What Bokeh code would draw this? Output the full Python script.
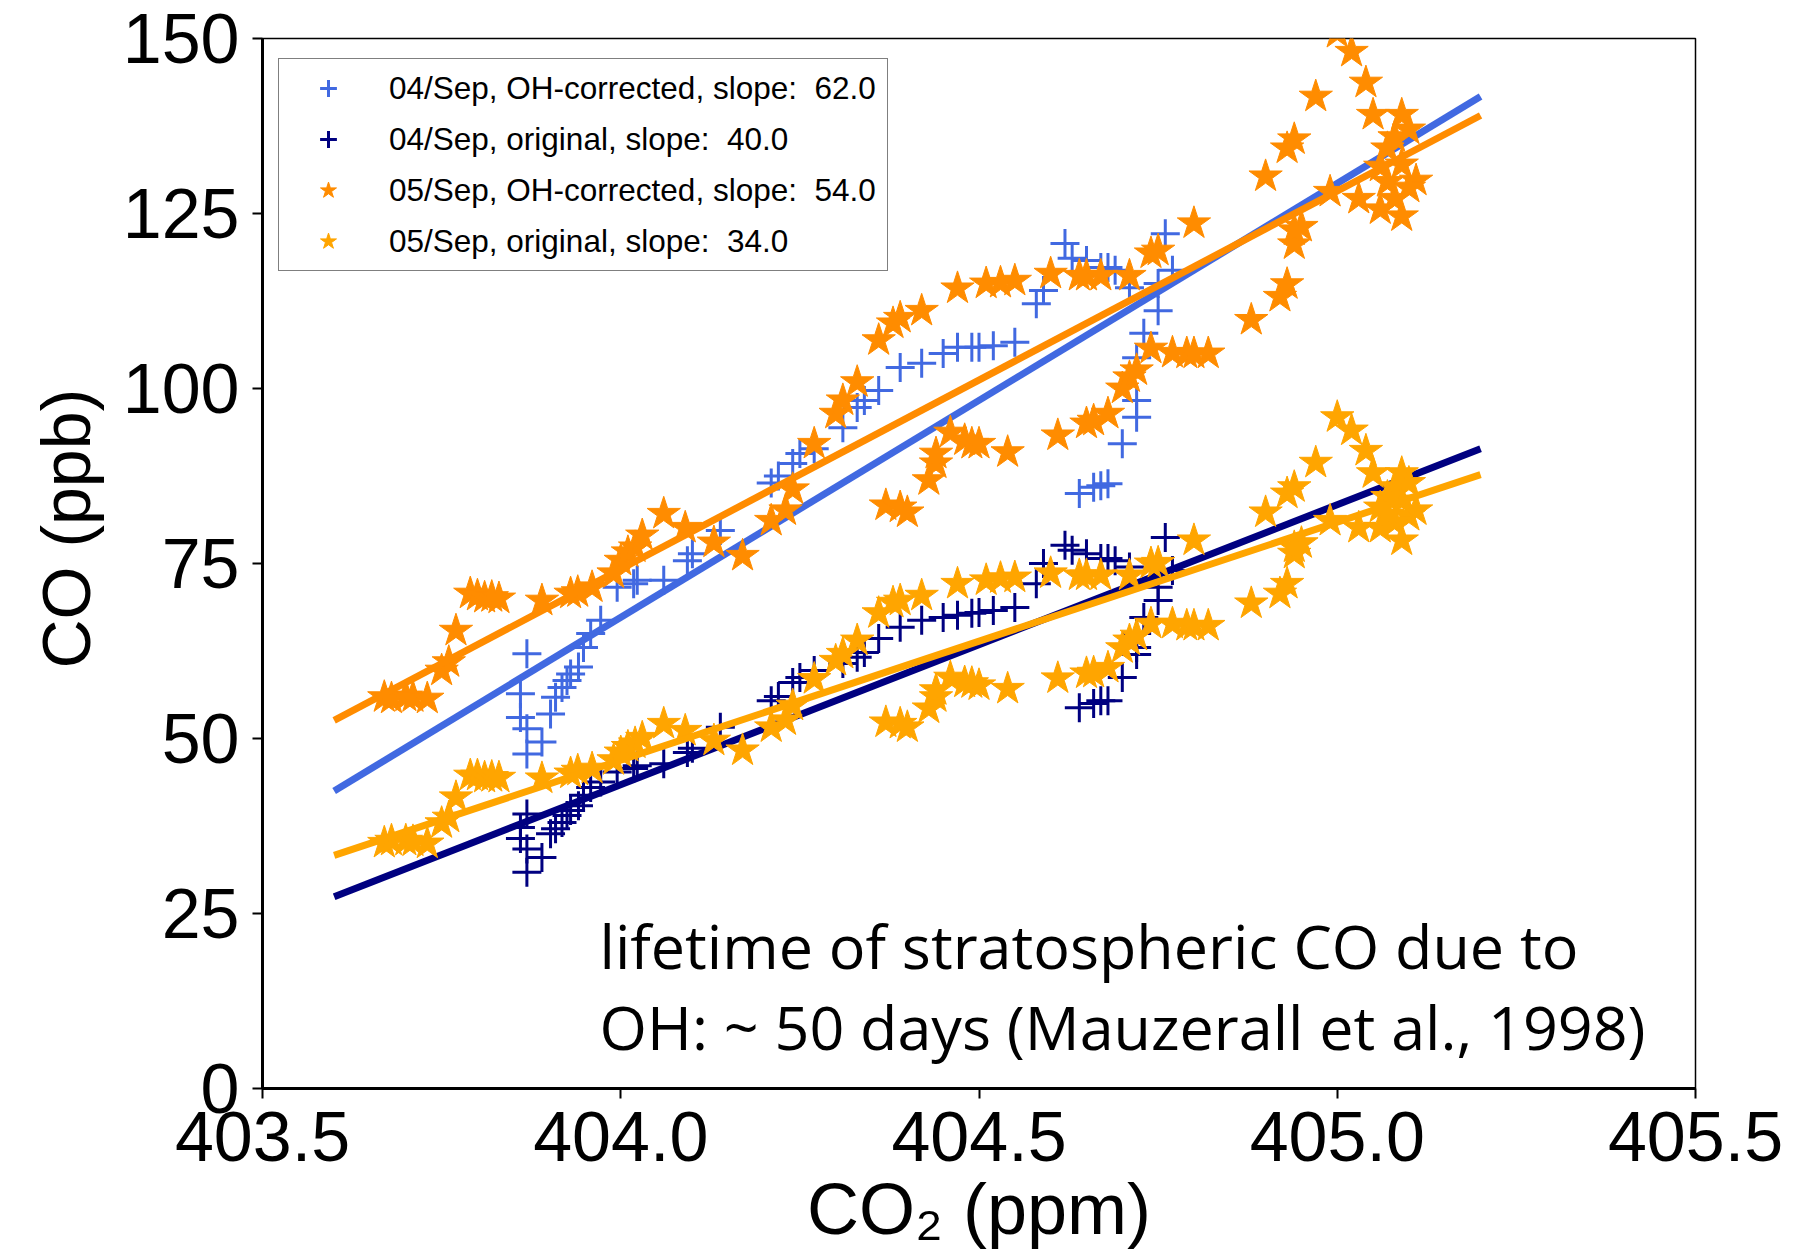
from math import pi
from bokeh.plotting import figure
from bokeh.models import Range1d, FixedTicker, Legend, LegendItem, Label, PrintfTickFormatter, Title
from bokeh.embed import file_html
from bokeh.resources import INLINE

# ---------------- data ----------------
# 04/Sep (plus markers): CO2 (ppm), CO original (ppb), CO OH-corrected (ppb)
co2_0904 = [403.869, 403.860, 403.860, 403.869, 403.890, 403.869, 403.902, 403.909, 403.918, 403.925,
            403.930, 403.941, 403.948, 403.958, 403.972, 403.995, 404.018, 404.023, 404.060, 404.093,
            404.100, 404.139, 404.21, 404.22, 404.24, 404.25, 404.27, 404.31, 404.33, 404.34,
            404.36, 404.39, 404.42, 404.45, 404.47, 404.49, 404.50, 404.52, 404.55, 404.58,
            404.59, 404.62, 404.63, 404.65, 404.67, 404.68, 404.69, 404.71, 404.76, 404.77,
            404.75, 404.75, 404.73, 404.72, 404.72, 404.72, 404.70, 404.68, 404.67, 404.66,
            404.64]
co_0904_orig = [39.2, 37.3, 35.7, 34.2, 33.0, 30.9, 36.4, 37.1, 38.0, 39.0,
                39.7, 40.4, 41.9, 43.0, 43.8, 45.2, 45.7, 46.1, 46.4, 48.0,
                48.6, 51.6, 55.4, 56.0, 58.0, 58.7, 59.7, 60.7, 61.6, 62.3,
                64.3, 65.9, 66.9, 67.3, 67.6, 67.9, 68.0, 68.3, 68.7, 72.1,
                75.0, 77.6, 76.9, 76.4, 75.7, 75.7, 75.4, 74.5, 78.7, 74.0,
                71.6, 69.7, 67.3, 65.0, 63.0, 62.0, 58.7, 55.4, 55.4, 55.0,
                54.4]
co_0904_corr = [62.1, 56.4, 53.0, 51.4, 49.5, 47.8, 53.5, 55.9, 57.3, 58.3,
                59.2, 60.2, 63.0, 65.0, 66.9, 71.6, 72.1, 72.6, 72.6, 75.4,
                76.4, 79.7, 86.5, 87.5, 89.3, 90.7, 91.4, 94.4, 97.3, 98.3,
                99.7, 103.0, 103.6, 105.0, 105.9, 105.9, 105.9, 106.1, 106.6, 112.1,
                114.0, 120.7, 118.6, 118.3, 117.3, 117.3, 116.9, 114.4, 122.1, 116.9,
                115.0, 111.1, 107.9, 104.4, 98.3, 95.9, 92.1, 86.4, 86.1, 85.9,
                85.0]

# 05/Sep (star markers): CO2 (ppm), CO original (ppb), CO OH-corrected (ppb)
co2_0905 = [403.67, 403.68, 403.70, 403.71, 403.73, 403.75, 403.76, 403.77, 403.79, 403.80,
            403.81, 403.82, 403.83, 403.89, 403.93, 403.94, 403.96, 403.99, 404.00, 404.01,
            404.02, 404.03, 404.06, 404.09, 404.13, 404.17, 404.21, 404.23, 404.24, 404.27,
            404.30, 404.31, 404.33, 404.36, 404.38, 404.39, 404.42, 404.47, 404.51, 404.53,
            404.55, 404.60, 404.64, 404.65, 404.67, 404.71, 404.74, 404.75, 404.80, 404.37,
            404.39, 404.40, 404.43, 404.44, 404.44, 404.46, 404.48, 404.49, 404.50, 404.54,
            404.61, 404.65, 404.66, 404.68, 404.70, 404.71, 404.72, 404.74, 404.77, 404.79,
            404.80, 404.82, 404.88, 404.92, 404.93, 404.94, 404.95, 404.90, 404.93, 404.94,
            404.97, 405.00, 405.02, 405.04, 405.05, 405.09, 405.08, 405.07, 405.06, 405.11,
            405.10, 405.08, 405.06, 405.09, 405.03, 404.99, 404.94, 405.09, 405.10, 405.07]
co_0905_orig = [35.1, 35.4, 35.4, 35.3, 35.0, 37.9, 38.7, 41.6, 44.7, 44.7,
                44.4, 44.5, 44.4, 44.3, 45.0, 45.4, 45.7, 46.9, 48.0, 48.8,
                49.3, 50.1, 52.1, 51.1, 49.7, 48.3, 51.6, 52.6, 54.7, 58.5,
                61.1, 62.1, 64.0, 67.9, 69.4, 69.7, 70.4, 72.1, 72.6, 72.9,
                73.0, 73.6, 73.3, 73.3, 73.3, 73.3, 75.0, 75.1, 78.3, 52.3,
                52.1, 51.6, 54.3, 55.9, 56.9, 58.7, 58.0, 57.9, 57.6, 57.1,
                58.6, 59.3, 59.4, 60.1, 62.9, 64.0, 64.7, 66.4, 66.4, 66.1,
                66.1, 66.1, 69.3, 70.7, 72.1, 76.4, 77.9, 82.3, 85.0, 85.9,
                89.4, 95.9, 94.0, 91.1, 87.9, 87.9, 85.9, 84.5, 83.0, 82.6,
                81.8, 80.9, 80.1, 78.3, 80.1, 81.1, 77.3, 84.0, 86.5, 82.0]
co_0905_corr = [55.9, 55.7, 56.0, 55.9, 55.7, 59.7, 60.9, 65.4, 70.7, 70.4,
                70.1, 70.2, 70.0, 69.7, 70.7, 70.9, 71.6, 73.6, 75.4, 76.6,
                77.3, 79.0, 82.1, 80.1, 78.0, 76.1, 81.1, 82.6, 85.6, 92.1,
                96.4, 98.3, 100.9, 106.9, 109.3, 110.1, 111.1, 114.3, 115.0, 115.1,
                115.4, 116.4, 116.1, 116.1, 116.1, 116.1, 119.3, 119.7, 123.6, 83.3,
                83.0, 82.3, 86.9, 89.3, 90.7, 93.7, 92.6, 92.1, 92.1, 90.9,
                93.3, 95.0, 95.4, 96.4, 100.0, 101.6, 102.6, 105.7, 105.1, 105.0,
                105.0, 105.0, 109.8, 113.1, 114.9, 120.6, 123.1, 130.3, 134.3, 135.6,
                141.7, 150.8, 148.1, 143.7, 139.1, 139.1, 135.9, 134.3, 131.7, 129.7,
                128.7, 127.1, 125.6, 124.6, 127.1, 128.1, 122.6, 132.0, 137.0, 129.5]

# linear fits: slope (ppb/ppm) and value at the start of the fit range
fit_range = [403.6, 405.2]
fit_slope = [62.0, 40.0, 54.0, 34.0]
fit_start = [42.5, 27.4, 52.6, 33.3]

labels = ["04/Sep, OH-corrected, slope:  62.0",
          "04/Sep, original, slope:  40.0",
          "05/Sep, OH-corrected, slope:  54.0",
          "05/Sep, original, slope:  34.0"]
colors = ["#4169E1", "#000080", "#FF8C00", "#FFA500"]

x_ticks = [403.5, 404.0, 404.5, 405.0, 405.5]
y_ticks = [0, 25, 50, 75, 100, 125, 150]

note_line1 = "lifetime of stratospheric CO due to"
note_line2 = "OH: ~ 50 days (Mauzerall et al., 1998)"

# ---------------- figure ----------------
W, H = 1808, 1254
BL, BT = 262, 38
FW, FH = 1433, 1050
p = figure(width=W, height=H,
           x_range=Range1d(403.5, 405.5), y_range=Range1d(0, 150),
           output_backend="svg", toolbar_location=None,
           min_border_left=BL, min_border_right=W - BL - FW,
           min_border_top=BT, min_border_bottom=H - BT - FH)
p.grid.visible = False
p.outline_line_color = "black"
p.outline_line_width = 1.5
p.background_fill_color = "white"
p.border_fill_color = "white"

for ax in (p.xaxis[0], p.yaxis[0]):
    ax.axis_line_width = 3
    ax.axis_line_color = "black"
    ax.major_tick_line_width = 2
    ax.major_tick_out = 10
    ax.major_tick_in = 0
    ax.minor_tick_line_color = None
    ax.major_label_text_font = "Liberation Sans"
    ax.major_label_text_font_size = "70px"
    ax.major_label_text_color = "black"
p.xaxis.ticker = FixedTicker(ticks=x_ticks)
p.xaxis.formatter = PrintfTickFormatter(format="%.1f")
p.yaxis.ticker = FixedTicker(ticks=y_ticks)
p.xaxis.major_label_standoff = 13
p.yaxis.major_label_standoff = 13

# x axis title
p.xaxis.axis_label = "CO₂ (ppm)"
p.xaxis.axis_label_text_font = "Liberation Sans"
p.xaxis.axis_label_text_font_size = "72px"
p.xaxis.axis_label_text_font_style = "normal"
p.xaxis.axis_label_text_color = "black"
p.xaxis.axis_label_standoff = 5

# y axis title (as a side title so it can be shifted like the original)
p.add_layout(Title(text="CO (ppb)", align="left", offset=420, standoff=31,
                   text_font="Liberation Sans", text_font_size="68px",
                   text_font_style="normal", text_color="black"), "left")

series = [(co2_0904, co_0904_corr, "cross"),
          (co2_0904, co_0904_orig, "cross"),
          (co2_0905, co_0905_corr, "star"),
          (co2_0905, co_0905_orig, "star")]

renderers = []
for i, (xs, ys, mk) in enumerate(series):
    if mk == "cross":
        r = p.scatter(xs, ys, marker="cross", size=29, line_color=colors[i], line_width=3)
    else:
        r = p.scatter(xs, ys, marker="star", size=35, fill_color=colors[i],
                      line_color=colors[i], line_width=1)
    renderers.append(r)
    fy = [fit_start[i] + fit_slope[i] * (x - fit_range[0]) for x in fit_range]
    p.line(fit_range, fy, line_color=colors[i], line_width=7)

LEG_H = 2 * 8 + 4 * 42 + 3 * 9
legend = Legend(items=[LegendItem(label=labels[i], renderers=[renderers[i]]) for i in range(4)],
                location=(16, FH - 22 - LEG_H))
legend.label_text_font = "Liberation Sans"
legend.label_text_font_size = "31.5px"
legend.label_text_color = "black"
legend.glyph_width = 82
legend.glyph_height = 42
legend.label_height = 42
legend.label_width = 490
legend.spacing = 9
legend.padding = 8
legend.margin = 0
legend.label_standoff = 20
legend.border_line_color = "black"
legend.border_line_width = 1.5
legend.background_fill_color = "white"
legend.background_fill_alpha = 1
p.add_layout(legend)

# annotation
p.add_layout(Label(x=337, y=143, x_units="screen", y_units="screen", text=note_line1,
                   text_align="left", text_baseline="alphabetic",
                   text_font="Open Sans", text_font_size="61px", text_color="black"))
p.add_layout(Label(x=337, y=62, x_units="screen", y_units="screen", text=note_line2,
                   text_align="left", text_baseline="alphabetic",
                   text_font="Open Sans", text_font_size="61px", text_color="black"))

open("out.html", "w").write(file_html(p, INLINE))
